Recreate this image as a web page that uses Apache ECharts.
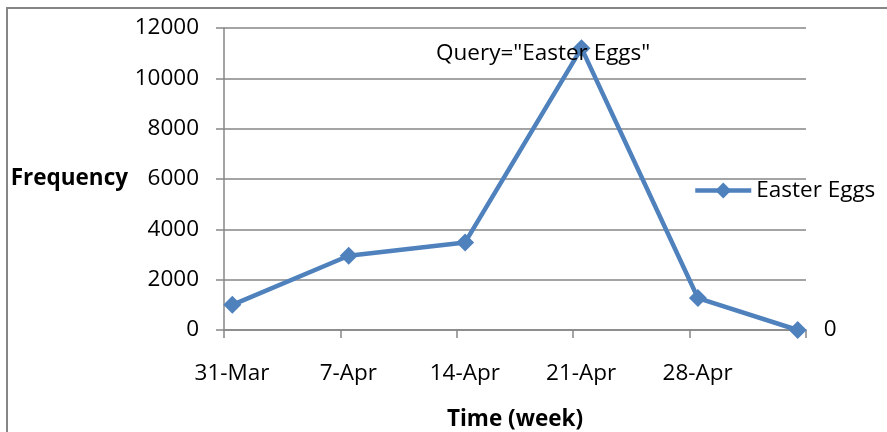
<!DOCTYPE html>
<html>
<head>
<meta charset="utf-8">
<script src="https://cdn.jsdelivr.net/npm/echarts@6/dist/echarts.min.js"></script>
<style>
html,body{margin:0;padding:0;background:#fff;}
#c{width:887px;height:432px;}
</style>
</head>
<body>
<div id="c"></div>
<script>
// Data
var seriesName = 'Easter Eggs';
var dayOffsets = [0, 7, 14, 21, 28, 34];          // days since 31-Mar
var values = [1000, 2950, 3480, 11200, 1270, 0];
var tickLabels = ['31-Mar', '7-Apr', '14-Apr', '21-Apr', '28-Apr', ''];
var yTicks = [0, 2000, 4000, 6000, 8000, 10000, 12000];
var chartTitle = 'Query="Easter Eggs"';
var xName = 'Time (week)';
var yName = 'Frequency';

var FONT = 'Open Sans';
var FS = 22.5;
var grey = '#868686';
var blue = '#4F81BD';

var data = dayOffsets.map(function (d, i) {
  var item = { value: [d + 0.5, values[i]] };
  if (i === dayOffsets.length - 1) {
    item.label = { show: true, position: 'right', distance: 17, formatter: String(values[i]),
      color: '#000', fontSize: FS, fontFamily: FONT };
  }
  return item;
});

var chart = echarts.init(document.getElementById('c'));
chart.setOption({
  animation: false,
  backgroundColor: '#fff',
  graphic: [{
    type: 'rect', silent: true, z: -1,
    shape: { x: 7, y: 8, width: 1000, height: 1000 },
    style: { fill: 'none', stroke: grey, lineWidth: 2 }
  }],
  title: {
    text: chartTitle, left: 431, top: 37,
    textStyle: { fontFamily: FONT, fontSize: FS, fontWeight: 'normal', color: '#000' }
  },
  legend: {
    data: [seriesName], left: 688, top: 174, itemWidth: 56, itemHeight: 20, itemGap: 4,
    lineStyle: { width: 4.5, color: blue },
    textStyle: { fontFamily: FONT, fontSize: FS, color: '#000' }
  },
  grid: { left: 224, right: 81, top: 28, bottom: 102, containLabel: false, outerBoundsMode: 'none' },
  xAxis: {
    type: 'value', min: 0, max: 35, interval: 7,
    name: xName, nameLocation: 'middle', nameGap: 78,
    nameTextStyle: { fontFamily: FONT, fontSize: FS, fontWeight: 'bold', color: '#000' },
    axisLine: { show: true, onZero: false, lineStyle: { color: grey, width: 1.5 } },
    axisTick: { show: true, length: 8, lineStyle: { color: grey, width: 1.5 } },
    axisLabel: {
      fontFamily: FONT, fontSize: FS, color: '#000', margin: 32, padding: [0, 0, 0, 16],
      showMaxLabel: true,
      formatter: function (v) { return tickLabels[Math.round(v / 7)] || ''; }
    },
    splitLine: { show: false }
  },
  yAxis: {
    type: 'value', min: yTicks[0], max: yTicks[yTicks.length - 1], interval: 2000,
    name: yName, nameLocation: 'middle', nameRotate: 0, nameGap: 96,
    nameTextStyle: { fontFamily: FONT, fontSize: FS, fontWeight: 'bold', color: '#000', align: 'right' },
    axisLine: { show: true, lineStyle: { color: grey, width: 1.5 } },
    axisTick: { show: true, length: 8, lineStyle: { color: grey, width: 1.5 } },
    axisLabel: { fontFamily: FONT, fontSize: FS, color: '#000', margin: 25,
      formatter: function (v) { return String(v); } },
    splitLine: { show: true, lineStyle: { color: grey, width: 1.5 } }
  },
  series: [{
    name: seriesName, type: 'line', data: data,
    symbol: 'diamond', symbolSize: 18, showAllSymbol: true,
    lineStyle: { color: blue, width: 4.5 },
    itemStyle: { color: blue },
    label: { show: false }
  }]
});
</script>
</body>
</html>
